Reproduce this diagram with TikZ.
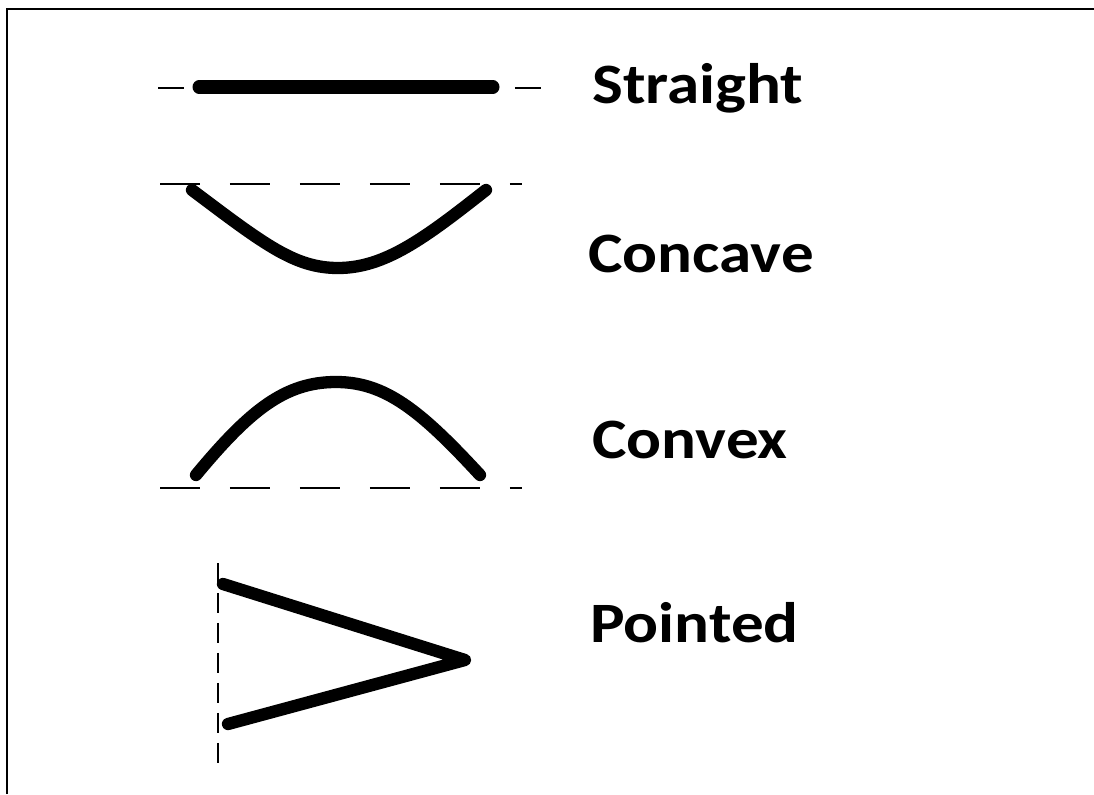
\documentclass[tikz,border=0pt]{standalone}
\usepackage{fontspec}
\setmainfont{Carlito}
\newfontfamily\labelfont[FakeStretch=1.14]{Carlito}
\usepackage{tikz}
\usetikzlibrary{positioning}

\begin{document}
\begin{tikzpicture}[x=0.02cm, y=-0.02cm,
    refline/.style={draw=black, line width=1.2pt},
    edgeline/.style={draw=black, line width=7pt, line cap=round, line join=round},
    shapename/.style={anchor=base west, inner sep=0pt, font=\labelfont\fontsize{32.5}{38}\selectfont\bfseries}]
  \useasboundingbox (0,0) rectangle (1094,794);
  % Frame (top and left only)
  \draw[line width=1.6pt] (7,794) -- (7,9) -- (1094,9);
  % Straight
  \draw[refline, dash pattern=on 0.52cm off 6.62cm] (158,88) -- (543,88);
  \draw[edgeline, line width=7.4pt] (199,87) -- (493,87);
  \node[shapename] (straight) at (592,103) {Straight};
  % Concave
  \draw[refline, dash pattern=on 0.8cm off 0.6cm] (160,184) -- (522,184);
  \draw[edgeline] (192,190) .. controls (265,245) and (295,268) .. (338,268)
                  .. controls (385,268) and (425,238) .. (486,190);
  \node[shapename] (concave) at (588,272) {Concave};
  % Convex
  \draw[refline, dash pattern=on 0.8cm off 0.6cm] (160,488) -- (522,488);
  \draw[edgeline] (196,475) .. controls (250,410) and (285,382) .. (336,382)
                  .. controls (385,382) and (420,410) .. (480,475);
  \node[shapename] (convex) at (592,458) {Convex};
  % Pointed
  \draw[refline, dash pattern=on 0.4cm off 0.2cm] (218,563) -- (218,767);
  \draw[edgeline] (223,584) -- (465,660) -- (228,724);
  \node[shapename] (pointed) at (590,642) {Pointed};
\end{tikzpicture}
\end{document}
